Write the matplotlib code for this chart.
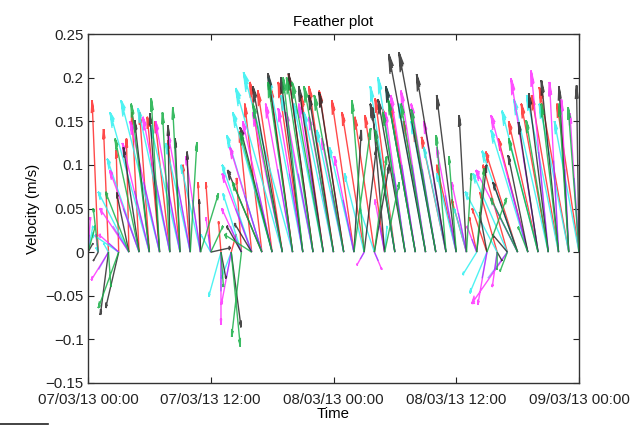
import numpy as np
import matplotlib
matplotlib.use('Agg')
import matplotlib.pyplot as plt
import matplotlib.dates as mdates
from matplotlib.lines import Line2D
from datetime import datetime, timedelta

plt.rcParams['font.family'] = ['Liberation Sans', 'DejaVu Sans']

# hourly samples, 07/03/13 00:00 .. 09/03/13 00:00
start = datetime(2013, 3, 7)
n_hours = 49

# velocity components (m/s) per series; u is added to the datenum axis like MATLAB
red_u = [-.05, -.025, -.02, -.01, -.01, -.03, -.04, -.05, -.06, -.05, -.03, -.01, -.02, -.01, .02, -.02,
         -.05, -.07, -.09, -.10, -.09, -.10, -.10, -.09, -.10, -.10, -.09, -.09, -.08, -.08, -.08, -.09,
         -.10, -.09, -.09, -.10, -.08, -.06, -.03, -.06, -.07, -.10, -.13, -.12, -.12, -.11, -.11, -.12, -.09]
red_v = [.06, .174, .141, .117, .13, .16, .16, .155, .15, .128, .10, .08, .08, .035, .02, .085,
         .138, .17, .195, .185, .19, .195, .204, .18, .19, .185, .174, .16, .155, .157, .176, .164,
         .17, .15, .14, .132, .10, .06, .04, .05, .069, .10, .115, .13, .15, .17, .18, .189, .17]

cyan_u = [.02, -.01, -.02, -.11, -.125, -.13, -.16, -.157, -.13, -.12, -.10, -.08, -.04, -.05, -.04, -.075,
          -.12, -.143, -.16, -.19, -.20, -.14, -.13, -.12, -.12, -.11, -.10, -.08, -.06, .01, -.10, -.11,
          -.12, -.11, -.10, -.09, -.08, -.05, -.057, -.07, -.13, -.14, -.145, -.15, -.147, -.14, -.13, -.12, -.10]
cyan_v = [.03, .005, .01, .021, .069, .107, .16, .174, .165, .145, .125, .10, .02, -.051, -.03, .067,
          .10, .134, .16, .188, .206, .20, .18, .17, .16, .14, .12, .09, .05, .03, .19, .20,
          .19, .17, .15, .12, .09, .05, -.026, -.047, .069, .09, .116, .14, .162, .175, .18, .17, .15]

magenta_u = [.01, -.01, -.07, -.08, -.118, -.12, -.11, -.12, -.11, -.10, -.09, -.06, -.02, 0.0, -.04, -.08,
             -.12, -.13, -.12, -.12, -.11, -.10, -.11, -.10, -.10, -.09, -.08, -.03, .03, -.04, -.08, -.08,
             -.10, -.10, -.10, -.09, -.08, -.06, -.04, -.037, -.02, -.145, -.17, -.15, -.11, -.07, -.037, -.03, -.037]
magenta_v = [.04, .02, -.032, .02, .05, .094, .125, .15, .155, .15, .135, .11, .04, -.083, -.06, .05,
             .09, .12, .15, .16, .17, .165, .16, .17, .155, .13, .11, -.015, -.02, .06, .14, .16,
             .18, .185, .17, .15, .12, .08, .03, -.06, -.04, -.059, .094, .157, .199, .208, .195, .175, .159]

blue_u = [.005, -.005, -.04, -.04, -.065, -.065, -.06, -.065, -.06, -.055, -.05, -.033, -.01, 0.0, -.02, -.045,
          -.065, -.07, -.065, -.065, -.06, -.055, -.06, -.055, -.055, -.05, -.045, -.016, .016, -.02, -.045, -.045,
          -.055, -.055, -.055, -.05, -.045, -.033, -.02, -.02, -.01, -.08, -.09, -.08, -.06, -.04, -.02, -.016, -.02]
blue_v = [.02, .01, -.02, .01, .03, .05, .07, .08, .085, .08, .075, .06, .02, -.045, -.03, .03,
          .05, .065, .08, .09, .095, .09, .09, .095, .085, .07, .06, -.008, -.01, .03, .075, .09,
          .10, .10, .095, .08, .065, .045, .015, -.03, -.02, -.03, .05, .085, .11, .115, .105, .095, .085]

black_u = [.02, -.02, -.033, -.053, -.05, -.064, -.06, -.04, -.007, -.02, -.013, -.005, .08, .02, .04, -.06,
           -.07, -.14, -.13, -.12, -.10, -.09, -.10, -.10, -.10, -.10, .03, .05, .06, -.05, -.10, -.11,
           -.12, -.15, -.15, -.12, -.08, -.03, .04, -.03, .02, -.06, -.10, -.08, -.08, -.08, -.07, -.04, -.01]
black_v = [.01, -.01, -.072, -.064, .068, .12, .151, .159, .145, .13, .115, .06, .005, -.03, -.086, .03,
           .033, .094, .143, .19, .205, .20, .205, .19, .18, .183, .14, .12, .10, .166, .17, .175,
           .19, .227, .229, .204, .18, .157, .10, .046, -.01, .02, .08, .111, .149, .182, .197, .19, .191]

green_u = [.03, -.02, .01, -.083, -.095, -.098, -.074, -.034, -.03, -.03, .027, .073, .05, .01, .037, -.04,
           -.11, -.12, -.13, -.12, -.10, -.08, -.108, -.127, -.12, -.12, .068, -.05, .05, .06, -.08, -.09,
           -.11, -.10, -.10, -.04, -.03, .02, .03, .08, 0.0, -.03, -.11, -.04, -.12, -.09, -.07, -.04, -.044]
green_v = [.03, .05, -.04, -.064, .069, .13, .17, .176, .16, .166, .126, .067, .03, -.04, -.108, -.097,
           .02, .08, .137, .17, .195, .20, .20, .195, .19, .18, .142, .174, .11, .08, .14, .16,
           .174, .17, .164, .134, .11, .09, .096, .062, -.02, -.022, .062, .029, .13, .151, .17, .17, .166]

xtick_hours = [0, 12, 24, 36, 48]
ytick_vals = [-0.15, -0.1, -0.05, 0, 0.05, 0.1, 0.15, 0.2, 0.25]
ytick_labels = ['\u22120.15', '\u22120.1', '\u22120.05', '0', '0.05', '0.1', '0.15', '0.2', '0.25']


def feather(ax, t, u, v, color, heads=True, **kw):
    # arrows from (t, 0) to (t+u, v) with narrow MATLAB-like heads
    xs, ys = [], []
    for t0, du, dv in zip(t, u, v):
        xs += [t0, t0 + du, np.nan]
        ys += [0, dv, np.nan]
        if heads:
            for s in (1, -1, 0.5, -0.5):
                xs += [t0 + du, t0 + 0.92 * du - s * 0.03 * dv, np.nan]
                ys += [dv, 0.92 * dv + s * 0.03 * du, np.nan]
    kw.setdefault('alpha', 0.85)
    ax.plot(xs, ys, color=color, lw=1.0, solid_capstyle='butt', **kw)


times = mdates.date2num([start + timedelta(hours=h) for h in range(n_hours)])

fig = plt.figure(figsize=(6.42, 4.26), dpi=100)
ax = fig.add_axes([88 / 642, 43 / 426, 491 / 642, 349 / 426])

feather(ax, times, red_u, red_v, '#ff2a2a')
feather(ax, times, cyan_u, cyan_v, '#30f0f0')
feather(ax, times, magenta_u, magenta_v, '#ff30ff')
feather(ax, times, blue_u, blue_v, '#3030ff', heads=False, alpha=0.4)
feather(ax, times, black_u, black_v, '#2a2a2a')
feather(ax, times, green_u, green_v, '#18b048')

ax.set_xlim(times[0], times[-1])
ax.set_ylim(-0.15, 0.25)
ax.set_xticks([times[h] for h in xtick_hours])
ax.xaxis.set_major_formatter(mdates.DateFormatter('%d/%m/%y %H:%M'))
ax.set_yticks(ytick_vals)
ax.set_yticklabels(ytick_labels)
ax.tick_params(direction='in', top=True, right=True, length=4, width=0.8,
               labelsize=10.8, colors='#222222')
ax.tick_params(axis='x', pad=7)
ax.tick_params(axis='y', pad=3)
for sp in ax.spines.values():
    sp.set_color('#333333')
    sp.set_linewidth(1.0)

ax.set_title('Feather plot', fontsize=10.8, pad=6)
ax.set_xlabel('Time', fontsize=10.8, labelpad=0)
ax.set_ylabel('Velocity (m/s)', fontsize=10.8, labelpad=4)

# stray rule at the bottom-left corner of the original image
fig.add_artist(Line2D([0, 48 / 642], [2 / 426, 2 / 426], color='#222222', lw=1.2))

fig.savefig('out.png', dpi=100)
